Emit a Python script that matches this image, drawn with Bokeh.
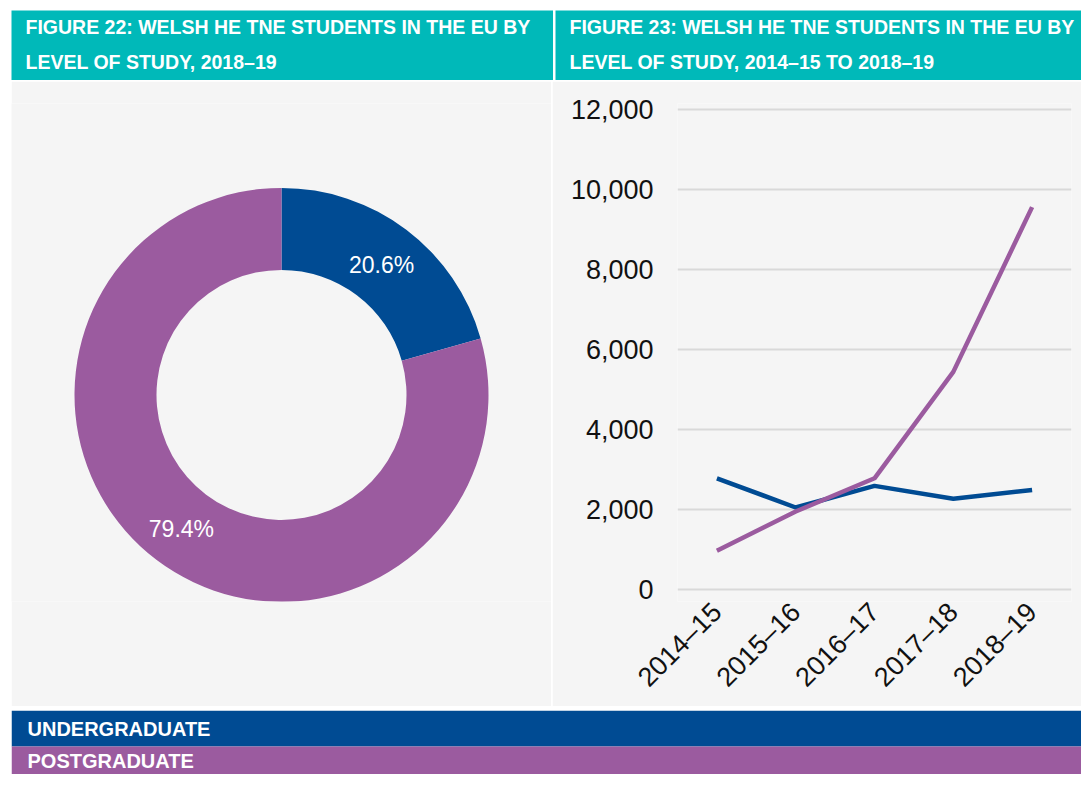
import math
from bokeh.plotting import figure
from bokeh.layouts import column, row, Spacer
from bokeh.models import Range1d, FactorRange, NumeralTickFormatter, FixedTicker, ColumnDataSource
from bokeh.core.properties import value
from bokeh.embed import file_html
from bokeh.resources import INLINE

# ---------------- data ----------------
series = ["Undergraduate", "Postgraduate"]
pie_shares = [20.6, 79.4]
years = ["2014–15", "2015–16", "2016–17", "2017–18", "2018–19"]
ug_values = [2780, 2050, 2590, 2270, 2490]
pg_values = [970, 1950, 2780, 5440, 9560]
y_ticks = [0, 2000, 4000, 6000, 8000, 10000, 12000]
title_left = ["FIGURE 22: WELSH HE TNE STUDENTS IN THE EU BY", "LEVEL OF STUDY, 2018–19"]
title_right = ["FIGURE 23: WELSH HE TNE STUDENTS IN THE EU BY", "LEVEL OF STUDY, 2014–15 TO 2018–19"]

# ---------------- styles ----------------
TEAL = "#00b9b9"
BLUE = "#004b93"
PURPLE = "#9b5b9f"
PANEL = "#f5f5f5"
GRID = "#d9d9d9"
colors = [BLUE, PURPLE]
TITLE_FONT = "Liberation Sans"
BODY_FONT = "Liberation Sans"

TOP_B, BOT_B = 22, 104   # shared frame borders of the chart row
PH = 625                 # chart row height


def blank(w, h, bg, xr, yr, **kw):
    p = figure(width=w, height=h, x_range=xr, y_range=yr, output_backend="svg",
               toolbar_location=None, min_border=0, x_axis_location=None,
               y_axis_location=None, background_fill_color=bg, border_fill_color=bg,
               outline_line_color=None, **kw)
    p.grid.visible = False
    return p


def header(w, h, lines):
    p = blank(w, h, TEAL, Range1d(0, w), Range1d(h, 0))
    p.text(x=[14, 14], y=[16, 51.5], text=lines, text_color="white",
           text_font=value(TITLE_FONT), text_font_size="19.5px", text_font_style="bold",
           text_baseline="middle", text_align="left")
    return p


head_l = header(542, 70, title_left)
head_r = header(526, 70, title_right)

# ---------------- donut ----------------
PW = 540
pie = blank(PW, PH, PANEL, Range1d(-270, 270), Range1d(-207, 292),
            min_border_top=TOP_B, min_border_bottom=BOT_B)
total = sum(pie_shares)
starts, ends, lx, ly, labels = [], [], [], [], []
cum = 0.0
for s in pie_shares:
    a0 = math.pi / 2 - 2 * math.pi * cum / total
    a1 = math.pi / 2 - 2 * math.pi * (cum + s) / total
    starts.append(a0)
    ends.append(a1)
    mid = (a0 + a1) / 2
    lx.append(166 * math.cos(mid))
    ly.append(166 * math.sin(mid))
    labels.append(f"{s:.1f}%")
    cum += s
src = ColumnDataSource(dict(start=starts, end=ends, color=colors, x=lx, y=ly, label=labels))
pie.annular_wedge(x=0, y=0, inner_radius=125, outer_radius=207, start_angle="start",
                  end_angle="end", direction="clock", fill_color="color", line_color=None,
                  source=src)
pie.text(x="x", y="y", text="label", source=src, text_color="white",
         text_font=value(BODY_FONT), text_font_size="23px", text_align="center",
         text_baseline="middle", y_offset=2)

# ---------------- line chart ----------------
line = figure(width=529, height=PH, x_range=FactorRange(*years), y_range=Range1d(-300, 12150),
              output_backend="svg", toolbar_location=None,
              min_border_left=125, min_border_right=10, min_border_top=TOP_B,
              min_border_bottom=BOT_B,
              background_fill_color=PANEL, border_fill_color=PANEL, outline_line_color=None)
line.line(x=years, y=ug_values, line_color=BLUE, line_width=4.5)
line.line(x=years, y=pg_values, line_color=PURPLE, line_width=4.5)
line.xgrid.visible = False
line.ygrid.grid_line_color = GRID
line.ygrid.grid_line_width = 2
line.yaxis.ticker = FixedTicker(ticks=y_ticks)
line.yaxis.formatter = NumeralTickFormatter(format="0,0")
for ax in (line.xaxis, line.yaxis):
    ax.axis_line_color = None
    ax.major_tick_line_color = None
    ax.minor_tick_line_color = None
    ax.major_label_text_font = BODY_FONT
    ax.major_label_text_font_size = "27px"
    ax.major_label_text_color = "#111111"
line.yaxis.major_label_standoff = 18
line.xaxis.major_label_standoff = 0
line.xaxis.major_label_orientation = math.pi / 4

# ---------------- legend bands ----------------
LW, LH = 1070, 64
leg = blank(LW, LH, "white", Range1d(0, LW), Range1d(LH, 0))
leg.quad(left=[0, 0], right=[LW, LW], top=[0, 36], bottom=[36, LH], fill_color=colors,
         line_color=None)
leg.text(x=[16, 16], y=[18, 50], text=[s.upper() for s in series], text_color="white",
         text_font=value(TITLE_FONT), text_font_size="20px", text_font_style="bold",
         text_baseline="middle")

layout = column(
    Spacer(height=10, width=10),
    row(Spacer(width=11, height=70), head_l, Spacer(width=2, height=70), head_r),
    Spacer(height=1, width=10),
    row(Spacer(width=11, height=PH), pie, Spacer(width=1, height=PH), line),
    Spacer(height=4, width=10),
    row(Spacer(width=11, height=LH), leg),
)

with open("out.html", "w") as f:
    f.write(file_html(layout, INLINE))
